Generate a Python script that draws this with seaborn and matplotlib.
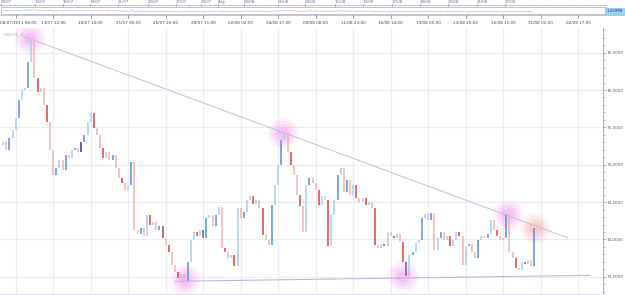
import matplotlib
matplotlib.use("Agg")
import matplotlib.pyplot as plt
from matplotlib.patches import Rectangle
import seaborn as sns

# closing prices, one per bar
closes = [
    75.26, 75.30, 75.20, 75.36, 75.46, 75.62, 75.87, 76.00, 76.03, 76.37,
    76.67, 76.16, 75.97, 76.03, 75.80, 75.57, 75.20, 74.86, 74.96, 75.06,
    74.93, 75.13, 75.09, 75.20, 75.22, 75.17, 75.30, 75.40, 75.57, 75.69,
    75.49, 75.40, 75.22, 75.09, 75.17, 75.06, 75.13, 74.96, 74.82, 74.76,
    74.66, 74.73, 75.04, 74.13, 74.07, 74.15, 74.05, 74.33, 74.19, 74.23,
    74.13, 74.18, 74.02, 73.93, 73.83, 73.66, 73.57, 73.49, 73.54, 73.45,
    73.70, 73.99, 74.10, 74.05, 74.13, 74.02, 74.29, 74.33, 74.18, 74.33,
    74.43, 73.89, 73.83, 73.75, 73.79, 73.65, 74.42, 74.29, 74.37, 74.53,
    74.58, 74.47, 74.53, 74.42, 74.06, 73.99, 73.93, 74.46, 74.73, 75.00,
    75.33, 75.42, 75.17, 75.00, 74.86, 74.59, 74.45, 74.10, 74.73, 74.82,
    74.76, 74.66, 74.46, 74.58, 74.53, 73.91, 74.33, 74.53, 74.86, 74.96,
    74.64, 74.80, 74.59, 74.73, 74.55, 74.50, 74.55, 74.46, 74.50, 74.42,
    73.93, 73.89, 73.94, 73.91, 74.10, 74.05, 74.02, 74.07, 73.97, 73.70,
    73.51, 73.79, 73.83, 73.95, 73.99, 74.29, 74.34, 74.26, 74.35, 73.86,
    74.02, 74.10, 73.99, 74.05, 73.91, 73.99, 74.10, 74.05, 73.66, 73.91,
    73.94, 73.83, 73.75, 73.99, 74.05, 74.02, 74.07, 74.26, 74.13, 74.05,
    73.99, 74.02, 74.33, 73.83, 73.75, 73.62, 73.59, 73.70, 73.67, 73.73,
    73.65, 74.15,
]

tick_labels = ["08/07/2011 06:00", "13/07 22:00", "18/07 14:00", "21/07 05:00",
               "25/07 20:00", "28/07 11:00", "02/08 02:00", "04/08 17:00",
               "09/08 08:00", "11/08 23:00", "16/08 14:00", "19/08 05:00",
               "23/08 20:00", "26/08 11:00", "31/08 02:00", "02/09 17:00"]
nav_labels = ["09/07", "13/07", "15/07", "19/07", "21/07", "23/07", "27/07",
              "29/07", "Aug", "03/08", "05/08", "09/08", "11/08", "13/08",
              "17/08", "19/08", "23/08", "25/08", "27/08"]
nav_pos = [1, 35, 63, 90, 118, 148, 176, 201, 218, 244, 278, 305, 335, 363,
           392, 420, 448, 477, 505]
price_ticks = [73.5, 74.0, 74.5, 75.0, 75.5, 76.0, 76.5]

# trendlines and marked pivots (bar index, price)
resist_x = [7.4, 181.8]
resist_y = [76.72, 74.02]
support_x = [56.0, 188.8]
support_y = [73.44, 73.52]
pivot_x = [9.6, 90.6, 59.2, 129.0, 162.6]
pivot_y = [76.69, 75.42, 73.46, 73.50, 74.33]
last_x = [171.2]
last_y = [74.15]
symbol = "USDX1_3"
last_quote = "1.43098"

sns.set_style("white")
plt.rcParams['font.family'] = ['DejaVu Sans']

fig = plt.figure(figsize=(6.25, 2.95), dpi=100)
ax = fig.add_axes([0, 1 / 295, 603 / 625, 266 / 295])

px_per_bar = 3.125
ax.set_xlim(0, 603 / px_per_bar)
ax.set_ylim(73.27, 76.83)

# grid; the first date label sits flush with the left edge
ax.set_xticks(range(5, 192, 12))
ax.set_xticklabels([""] + tick_labels[1:])
ax.annotate(tick_labels[0], xy=(0, 1), xycoords="axes fraction",
            xytext=(0.3, 1.8), textcoords="offset points", fontsize=3.0,
            color="#404060", ha="left", va="bottom")
ax.set_yticks(price_ticks)
ax.set_yticklabels([f"{v:.4f}".replace(".", ",") for v in price_ticks])
ax.set_yticks([v / 10 for v in range(733, 769)], minor=True)
ax.grid(True, which="major", color="#ececf2", lw=0.8)
ax.set_axisbelow(True)

# glow on the touch points
for s, a in [(500, 0.08), (320, 0.10), (180, 0.13), (70, 0.18)]:
    sns.scatterplot(x=pivot_x, y=pivot_y, s=s, color="#f36ef0", alpha=a,
                    edgecolor="none", ax=ax, legend=False, zorder=1)
    sns.scatterplot(x=last_x, y=last_y, s=s, color="#f48080", alpha=a,
                    edgecolor="none", ax=ax, legend=False, zorder=1)

# price bars: from previous close to close
up = ["#a9cdf0", "#5596dc", "#2d4592"]
down = ["#f5b3b3", "#e84545", "#8c5583"]
for i in range(1, len(closes)):
    d = closes[i] - closes[i - 1]
    k = 0
    if i % 3 == 0:
        k = 1
    if i % 13 == 0 and abs(d) > 0.1:
        k = 2
    col = up[k] if d >= 0 else down[k]
    ax.vlines(i, closes[i - 1], closes[i], color=col, lw=1.15, zorder=3)

# trendlines
sns.lineplot(x=resist_x, y=resist_y, color="#bdb6d8", lw=0.6, ax=ax, zorder=2)
sns.lineplot(x=support_x, y=support_y, color="#bdb6d8", lw=0.8, ax=ax, zorder=2)

ax.text(0.006, 0.985, symbol, transform=ax.transAxes, fontsize=3.2,
        color="#7fb2e6", va="top", ha="left")

# axes styling
for side in ["left", "top"]:
    ax.spines[side].set_visible(False)
ax.spines["bottom"].set_color("#e0e0e8")
ax.spines["right"].set_color("#a8a8b8")
ax.spines["right"].set_linewidth(0.7)
ax.yaxis.tick_right()
ax.xaxis.tick_top()
ax.tick_params(axis="y", which="major", length=2.5, width=0.5, color="#9090a0",
               labelsize=3.0, labelcolor="#55557a", pad=0.5)
ax.tick_params(axis="y", which="minor", length=1.5, width=0.4, color="#9090a0")
ax.tick_params(axis="x", length=0, labelsize=3.0, labelcolor="#404060", pad=2.5)

# navigator header
hd = fig.add_axes([0, 1 - 27 / 295, 1, 27 / 295])
hd.set_xlim(0, 625)
hd.set_ylim(27, 0)
hd.axis("off")
for lab, p in zip(nav_labels, nav_pos):
    hd.text(p, 2.4, lab, fontsize=2.8, color="#6a6a90", ha="left", va="center")
    hd.plot([p, p], [3.8, 6.2], color="#70708a", lw=0.5)
hd.plot([0, 606], [5.4, 5.4], color="#b0b0c0", lw=0.5)
for t in range(0, 606, 5):
    hd.plot([t, t], [5.4, 6.1], color="#9a9aae", lw=0.3)
hd.add_patch(Rectangle((0.5, 6.5), 605, 7.0, facecolor="white",
                       edgecolor="#b4b4c4", lw=0.6))
lo, hi = min(closes), max(closes)
for i in range(1, len(closes)):
    y0 = 11.8 - (closes[i - 1] - lo) / (hi - lo) * 2.0
    y1 = 11.8 - (closes[i] - lo) / (hi - lo) * 2.0
    c = "#6a9ee0" if closes[i] >= closes[i - 1] else "#e06a6a"
    hd.plot([i * 3.1, i * 3.1 + 2.2], [y0, y1], color=c, lw=0.5, alpha=0.7)
hd.plot([0, 606], [15.0, 15.0], color="#b0b0c0", lw=0.5)
for t in range(0, 606, 9):
    hd.plot([t, t], [15.0, 16.0], color="#9a9aae", lw=0.3)
for k in range(16):
    xp = 15.5 + 37.5 * k
    hd.plot([xp, xp], [15.0, 17.5], color="#70708a", lw=0.5)
hd.add_patch(Rectangle((605, 8.3), 19, 6.2, facecolor="#9fd3f5",
                       edgecolor="#7ab8e0", lw=0.4))
hd.text(614.5, 11.4, last_quote, fontsize=2.8, color="#1d2f66",
        ha="center", va="center")

plt.savefig("out.png", dpi=100)
